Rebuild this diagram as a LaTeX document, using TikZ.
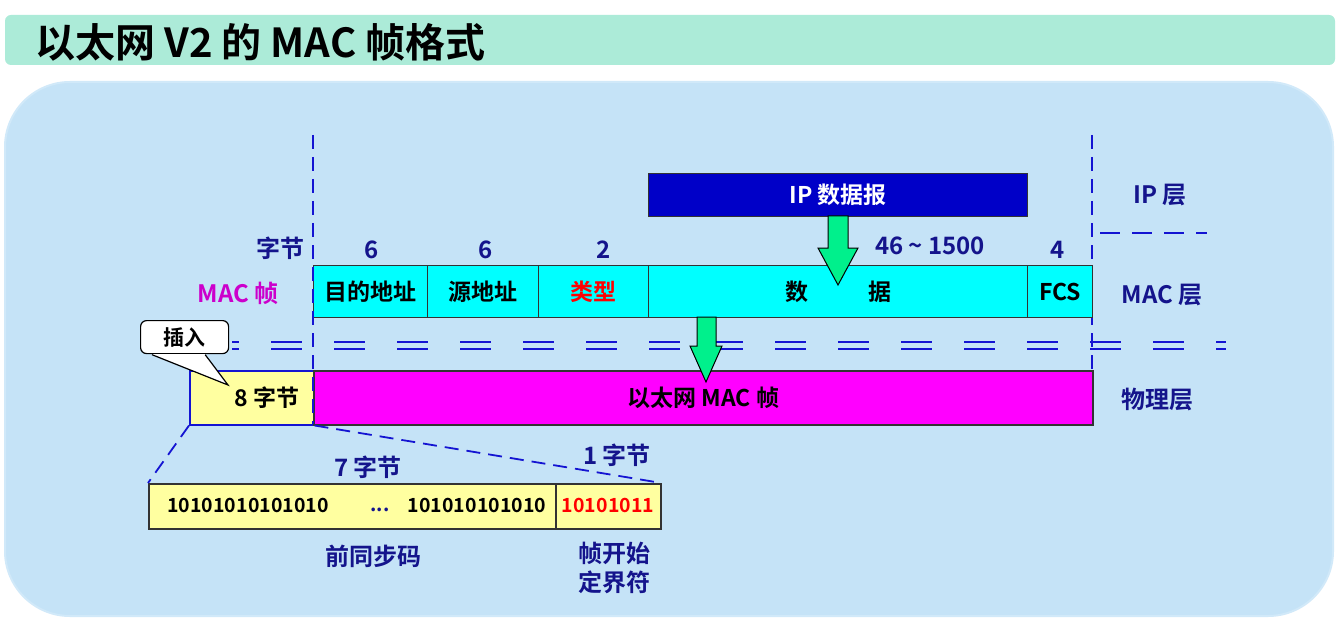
\documentclass[tikz,border=0pt]{standalone}
\usepackage{fontspec}
\setmainfont{Noto Sans CJK SC}[BoldFont={* Bold}]
\definecolor{dkb}{RGB}{20,20,140}
\definecolor{mint}{RGB}{172,235,216}
\definecolor{pale}{RGB}{197,227,247}
\definecolor{ipb}{RGB}{0,0,200}
\definecolor{grn}{RGB}{0,240,140}
\definecolor{yel}{RGB}{255,255,160}
\definecolor{lnb}{RGB}{20,20,210}
\definecolor{cyn}{RGB}{0,255,255}
\definecolor{mag}{RGB}{255,0,255}
\definecolor{magt}{RGB}{204,0,204}
\begin{document}
\begin{tikzpicture}[x=1pt,y=-1pt,
 lab/.style={font=\bfseries\fontsize{24}{26}\selectfont,text=dkb,inner sep=0},
 fld/.style={draw=black!80,line width=1.3pt,fill=cyn,minimum height=52pt,anchor=north west,inner sep=0,font=\bfseries\fontsize{23}{26}\selectfont},
 bits/.style={font=\bfseries\fontsize{19.5}{22}\selectfont,inner sep=0},
 dsh/.style={lnb,line width=2pt,dash pattern=on 14pt off 8pt},
 garrow/.style={draw=black,line width=1pt,fill=grn}]
\useasboundingbox (0,0) rectangle (1337,620);
\fill[white] (0,0) rectangle (1337,620);
\fill[mint,rounded corners=6pt] (5,15) rectangle (1335,65);
\node[anchor=west,inner sep=0,font=\bfseries\fontsize{40}{42}\selectfont] (title) at (35,42) {以太网 V2 的 MAC 帧格式};
\draw[draw=pale!80!white,fill=pale,line width=2pt,rounded corners=65pt] (5,82) rectangle (1333,616);
% vertical dashed
\coordinate (v1a) at (313,135); \coordinate (v1b) at (313,424);
\coordinate (v2a) at (1092,135); \coordinate (v2b) at (1092,372);
\draw[dsh] (v2a) -- (v2b);
% IP box
\node[draw=black!80,line width=1.3pt,fill=ipb,minimum width=379pt,minimum height=43pt,anchor=north west,inner sep=0,text=white,font=\bfseries\fontsize{23}{26}\selectfont] (ip) at (648,173) {IP 数据报};
\node[lab] (iplayer) at (1160,195) {IP 层};
\coordinate (h1) at (1100,233); \coordinate (h2) at (1207,233);
\draw[dsh,dash pattern=on 20pt off 12pt] (h1) -- (h2);
% MAC fields
\node[fld,minimum width=114pt] (f1) at (313,265) {目的地址};
\node[fld,minimum width=111pt] (f2) at (427,265) {源地址};
\node[fld,minimum width=110pt,text=red] (f3) at (538,265) {类型};
\node[fld,minimum width=379pt] (f4) at (648,265) {数\hspace{60pt}据};
\node[fld,minimum width=65pt] (f5) at (1027,265) {FCS};
\node[lab] (zj) at (280,248) {字节};
\node[lab] (n1) at (372,250) {6};
\node[lab] (n2) at (486,250) {6};
\node[lab] (n3) at (604,250) {2};
\node[lab] (n4) at (930,246) {46 \textasciitilde{} 1500};
\node[lab] (n5) at (1058,250) {4};
\node[lab,text=magt] (macf) at (238,293) {MAC 帧};
\node[lab] (maclayer) at (1162,295) {MAC 层};
% double dashed
\coordinate (d1) at (232,342); \coordinate (d2) at (1226,342);
\coordinate (d3) at (232,349); \coordinate (d4) at (1226,349);
\draw[lnb,line width=2pt,dash pattern=on 31pt off 32pt,dash phase=24pt] (d1) -- (d2);
\draw[lnb,line width=2pt,dash pattern=on 31pt off 32pt,dash phase=24pt] (d3) -- (d4);
% physical row
\node[draw=lnb,line width=1.5pt,fill=yel,minimum width=124pt,minimum height=54pt,anchor=north west,inner sep=0,font=\bfseries\fontsize{23}{26}\selectfont] (pre) at (189,370) {\hspace{30pt}8 字节};
\node[draw=black!80,line width=1.5pt,fill=mag,minimum width=779pt,minimum height=54pt,anchor=north west,inner sep=0,font=\bfseries\fontsize{23}{26}\selectfont] (eth) at (313,370) {以太网 MAC 帧};
\node[lab] (phy) at (1157,400) {物理层};
\draw[dsh] (v1a) -- (v1b);
% callout
\node[draw=black,line width=1.2pt,fill=white,rounded corners=6pt,minimum width=88pt,minimum height=33pt,anchor=north west,inner sep=0,font=\bfseries\fontsize{21}{24}\selectfont] (ins) at (140,320) {插入};
\coordinate (tip) at (228,385);
\fill[white] ([xshift=12pt]ins.south west) -- (tip) -- ([xshift=-24pt]ins.south east) -- cycle;
\draw[line width=1.2pt] ([xshift=12pt,yshift=-0.5pt]ins.south west) -- (tip) -- ([xshift=-24pt,yshift=-0.5pt]ins.south east);
% green arrows
\draw[garrow] (828,216) -- (848,216) -- (848,248) -- (858,248) -- (838,285) -- (818,248) -- (828,248) -- cycle;
\draw[garrow] (697,317) -- (716,317) -- (716,346) -- (722,346) -- (706,382) -- (690,346) -- (697,346) -- cycle;
% preamble detail
\node[draw=black!80,line width=1.5pt,fill=yel,minimum width=512pt,minimum height=45pt,anchor=north west,inner sep=0] (pbox) at (148,483) {};
\coordinate (s1) at (556,483); \coordinate (s2) at (556,530);
\draw[black!80,line width=1.3pt] (s1) -- (s2);
\draw[dsh,line width=1.8pt] (pre.south west) -- (pbox.north west);
\draw[dsh,line width=1.8pt] (pre.south east) -- (pbox.north east);
\node[bits] (b1) at (248,505) {10101010101010};
\node[bits,text=dkb] (b2) at (380,510) {...};
\node[bits] (b3) at (477,505) {101010101010};
\node[bits,text=red] (b4) at (608,505) {10101011};
\node[lab] (z7) at (368,467) {7 字节};
\node[lab] (z1) at (617,455) {1 字节};
\node[lab] (pq) at (373,556) {前同步码};
\node[lab,align=center,font=\bfseries\fontsize{24}{29}\selectfont] (sfd) at (614,568) {帧开始\\定界符};
\end{tikzpicture}
\end{document}
